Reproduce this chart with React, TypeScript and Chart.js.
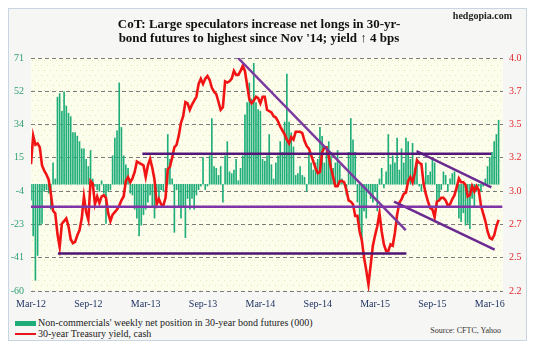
import { useEffect, useRef } from 'react';
import { Chart, registerables } from 'chart.js';

Chart.register(...registerables);

// Weekly CoT net position (000 contracts), Mar-2012 .. Mar-2016
const NET_POSITION = [
  -9, -29, -54, -40, -23, -22, -4, -3, -5, -14,
  12, 3, 49, 51, 41, 52, 44, 40, 38, 29,
  29, 27, 24, 20, 20, 14, 10, 19, 3, -1,
  -3, -4, 2, -5, -22, -4, -3, 16, 26, 30,
  57, 32, 16, 11,
  9, -5, -6, -14, -19, -29, -23, -17, -14, -10,
  -6, -12, -19, -4, -8, -3, -4, 9, 28, 14,
  3, -27, -3, -12, -19, -12, -30, -8, -14, -8,
  -14, -6, -3, -1, 15, -3, -1, 16, 37, 10,
  9, 5,
  10, -10, 16, 24, 7, 6, 8, 14, 2, 9,
  16, 39, 46, 57, 48, 68, 46, 42, 41, 14,
  13, 16, 28, 11, 3, 12, 16, 24, 18, 35,
  62, 35, 29, 21, 5, 6, 10, 5, 4, -4,
  18, 12, 8, 12,
  14, 32, 27, 12, 21, 24, 16, 9, 12, 19,
  11, 3, 1, -6, 18, 37, 25, 18, -10, -25,
  -33, -15, -19, -4, -8, -10, -4, -15, 3, 9,
  -2, 7, 28, 11, 16, 12, 26, 8, 20, 12,
  26, 24, 14,
  23, 9, 14, -1, -4, 1, 12, 5, 7, 14,
  12, -12, -8, -3, 7, 5, -4, 3, 6, 7,
  -4, -19, -21, -16, -23, -22, -25, -8, -12, -4,
  -1, -4, -1, 3, 10, 15, 18, 24, 28, 36,
];

// 30-year Treasury yield (%), weekly
const YIELD = [
  3.18, 3.40, 3.33, 3.34, 3.31, 3.17, 3.13, 3.10, 3.06, 2.95,
  2.82, 2.80, 2.64, 2.54, 2.72, 2.74, 2.76, 2.70, 2.60, 2.57,
  2.58, 2.63, 2.67, 2.76, 2.93, 2.81, 2.75, 3.05, 3.03, 2.87,
  2.93, 2.88, 2.93, 2.94, 2.92, 2.80, 2.74, 2.79, 2.81, 2.83,
  2.86, 2.90, 2.93,
  3.05, 3.08, 3.04, 3.07, 3.12, 3.20, 3.19, 3.18, 3.17, 3.08,
  3.17, 3.22, 3.15, 3.06, 2.87, 2.91, 2.87, 2.86, 2.92, 3.14,
  3.16, 3.23, 3.31, 3.33, 3.40, 3.50, 3.55, 3.66, 3.65, 3.60,
  3.64, 3.67, 3.70, 3.80, 3.84, 3.80, 3.84, 3.86, 3.83, 3.77,
  3.74, 3.72, 3.66,
  3.60, 3.62, 3.82, 3.81, 3.82, 3.84, 3.90, 3.87, 3.87, 3.90,
  3.94, 3.90, 3.79, 3.68, 3.65, 3.67, 3.70, 3.69, 3.65, 3.70,
  3.70, 3.60, 3.59, 3.58, 3.55, 3.54, 3.51, 3.47, 3.44, 3.41,
  3.37, 3.34, 3.39, 3.37, 3.43, 3.43, 3.43, 3.42, 3.36, 3.32,
  3.30, 3.25, 3.20, 3.15,
  3.11, 3.12, 3.27, 3.31, 3.31, 3.24, 3.15, 3.08, 3.01, 3.01,
  3.05, 3.05, 3.04, 2.98, 2.90, 2.89, 2.87, 2.78, 2.78, 2.66,
  2.59, 2.46, 2.36, 2.25, 2.40, 2.55, 2.63, 2.70, 2.80, 2.66,
  2.56, 2.51, 2.51, 2.56, 2.55, 2.65, 2.79, 2.88, 2.91, 2.95,
  2.96, 3.05, 3.08,
  3.04, 3.11, 3.21, 3.19, 3.18, 3.03, 2.95, 2.89, 2.84, 2.83,
  2.77, 2.89, 2.90, 2.92, 2.92, 2.90, 2.86, 2.87, 2.91, 2.94,
  3.00, 3.07, 3.04, 3.04, 3.02, 2.93, 2.94, 3.01, 2.97, 3.01,
  2.98, 2.86, 2.80, 2.74, 2.66, 2.61, 2.60, 2.63, 2.70, 2.75,
];

// x-axis labels, one every 26 weeks
const X_LABELS = ['Mar-12', 'Sep-12', 'Mar-13', 'Sep-13', 'Mar-14', 'Sep-14', 'Mar-15', 'Sep-15', 'Mar-16'];
const WEEKS_PER_LABEL = 26;
const X_MAX_WEEK = 214;

const LEFT_MIN = -60;
const LEFT_MAX = 71;
const LEFT_TICK_LABELS = ['-60', '-41', '-23', '-4', '15', '34', '52', '71'];
const RIGHT_MIN = 2.2;
const RIGHT_MAX = 4.0;
const RIGHT_TICK_LABELS = ['2.2', '2.5', '2.7', '3.0', '3.2', '3.5', '3.7', '4.0'];

// Trend / support-resistance lines (week index, yield)
const TREND_FROM_WEEK = [50.5, 0, 12.2, 93.9, 174.8, 164.6];
const TREND_FROM_YIELD = [3.26, 2.85, 2.49, 4.0, 3.28, 2.89];
const TREND_TO_WEEK = [208.7, 213.7, 170.2, 169.9, 208.7, 210.2];
const TREND_TO_YIELD = [3.26, 2.85, 2.49, 2.67, 3.0, 2.52];

const SERIF = '"Liberation Serif", "Times New Roman", serif';

const bgPlugin = {
  id: 'plotBg',
  beforeDraw(chart: any) {
    const { ctx, chartArea } = chart;
    if (!chartArea) return;
    const { left, top, right, bottom } = chartArea;
    ctx.save();
    ctx.fillStyle = '#fdfdec';
    ctx.fillRect(left, top, right - left, bottom - top);
    ctx.fillStyle = '#e6e2b4';
    let row = 0;
    for (let y = top + 2; y < bottom; y += 5) {
      for (let x = left + 1 + (row % 2) * 3; x < right; x += 6) {
        ctx.fillRect(x, y, 1, 1);
      }
      row++;
    }
    ctx.restore();
  },
};

export default function App() {
  const ref = useRef<HTMLCanvasElement>(null);

  useEffect(() => {
    const trendColors = ['#55187a', '#7f35a8', '#4e1570', '#7a3a9e', '#6a2a90', '#6a2a90'];
    const trendSets = TREND_FROM_WEEK.map((w, i) => ({
      type: 'line' as const,
      label: 'trend' + i,
      data: [
        { x: w, y: TREND_FROM_YIELD[i] },
        { x: TREND_TO_WEEK[i], y: TREND_TO_YIELD[i] },
      ],
      borderColor: trendColors[i],
      borderWidth: 2.5,
      pointRadius: 0,
      yAxisID: 'yR',
      xAxisID: 'x',
      order: 1,
    }));

    const chart = new Chart(ref.current!, {
      type: 'bar',
      data: {
        datasets: [
          {
            type: 'bar',
            label: "Non-commercials' weekly net position in 30-year bond futures (000)",
            data: NET_POSITION.map((v, i) => ({ x: i, y: v })),
            backgroundColor: '#1fae7a',
            barThickness: 1,
            yAxisID: 'yL',
            xAxisID: 'x',
            order: 3,
          } as any,
          {
            type: 'line',
            label: '30-year Treasury yield, cash',
            data: YIELD.map((v, i) => ({ x: i, y: v })),
            borderColor: '#f01414',
            borderWidth: 2.6,
            pointRadius: 0,
            tension: 0,
            yAxisID: 'yR',
            xAxisID: 'x',
            order: 2,
          } as any,
          ...trendSets,
        ],
      },
      options: {
        responsive: false,
        animation: false,
        events: [],
        layout: { padding: { top: 49, left: 0, right: 0, bottom: 0 } },
        plugins: {
          legend: { display: false },
          tooltip: { enabled: false },
          title: { display: false },
        },
        scales: {
          x: {
            type: 'linear',
            min: 0,
            max: X_MAX_WEEK,
            offset: false,
            grid: { display: false, drawTicks: false },
            border: { display: false },
            ticks: {
              autoSkip: false,
              maxRotation: 0,
              padding: 7,
              color: '#1c2f5e',
              font: { family: SERIF, size: 10 },
              callback: (_v: any, i: number) => X_LABELS[i],
            },
            afterBuildTicks: (s: any) => {
              s.ticks = X_LABELS.map((_, i) => ({ value: i * WEEKS_PER_LABEL }));
            },
            afterFit: (s: any) => {
              s.height = 23;
            },
          },
          yL: {
            type: 'linear',
            position: 'left',
            min: LEFT_MIN,
            max: LEFT_MAX,
            grid: { color: '#7c7c7c', lineWidth: 1, drawTicks: false },
            border: { display: false, dash: [4, 3] },
            ticks: {
              padding: 7,
              color: '#2e9f72',
              font: { family: SERIF, size: 10 },
              callback: (_v: any, i: number) => LEFT_TICK_LABELS[i],
            },
            afterBuildTicks: (s: any) => {
              const n = LEFT_TICK_LABELS.length - 1;
              s.ticks = LEFT_TICK_LABELS.map((_, i) => ({ value: LEFT_MIN + (i * (LEFT_MAX - LEFT_MIN)) / n }));
            },
            afterFit: (s: any) => {
              s.width = 22;
            },
          },
          yR: {
            type: 'linear',
            position: 'right',
            min: RIGHT_MIN,
            max: RIGHT_MAX,
            grid: { display: false, drawTicks: false },
            border: { display: false },
            ticks: {
              padding: 6,
              color: '#e3262b',
              font: { family: SERIF, size: 10 },
              callback: (_v: any, i: number) => RIGHT_TICK_LABELS[i],
            },
            afterBuildTicks: (s: any) => {
              const n = RIGHT_TICK_LABELS.length - 1;
              s.ticks = RIGHT_TICK_LABELS.map((_, i) => ({ value: RIGHT_MIN + (i * (RIGHT_MAX - RIGHT_MIN)) / n }));
            },
            afterFit: (s: any) => {
              s.width = 23;
            },
          },
        },
      } as any,
      plugins: [bgPlugin],
    });
    return () => chart.destroy();
  }, []);

  return (
    <div
      style={{
        position: 'relative',
        width: 519,
        height: 333,
        boxSizing: 'border-box',
        border: '1px solid #c8d5e3',
        background: '#f6f6f4',
        fontFamily: SERIF,
        overflow: 'hidden',
      }}
    >
      <canvas ref={ref} width={517} height={305} style={{ position: 'absolute', left: 0, top: 0, display: 'block' }} />
      <div
        style={{
          position: 'absolute',
          left: 0,
          top: 8,
          width: 500,
          textAlign: 'center',
          fontWeight: 'bold',
          fontSize: 13,
          lineHeight: '14px',
          color: '#111',
        }}
      >
        CoT: Large speculators increase net longs in 30-yr-
        <br />
        bond futures to highest since Nov '14; yield ↑ 4 bps
      </div>
      <div
        style={{
          position: 'absolute',
          right: 14,
          top: 1,
          fontWeight: 'bold',
          fontSize: 10,
          lineHeight: '12px',
          color: '#222',
        }}
      >
        hedgopia.com
      </div>
      <div style={{ position: 'absolute', left: 6, top: 312, width: 21, height: 5, background: '#1fae7a' }} />
      <div
        style={{ position: 'absolute', left: 29, top: 308, fontSize: 10, lineHeight: '12px', color: '#222', whiteSpace: 'nowrap' }}
      >
        Non-commercials' weekly net position in 30-year bond futures (000)
      </div>
      <div style={{ position: 'absolute', left: 6, top: 324, width: 21, height: 2, background: '#e8161b' }} />
      <div
        style={{ position: 'absolute', left: 29, top: 319, fontSize: 10, lineHeight: '12px', color: '#222', whiteSpace: 'nowrap' }}
      >
        30-year Treasury yield, cash
      </div>
      <div
        style={{ position: 'absolute', right: 25, top: 317, fontSize: 8, lineHeight: '10px', color: '#333', whiteSpace: 'nowrap' }}
      >
        Source: CFTC, Yahoo
      </div>
    </div>
  );
}
